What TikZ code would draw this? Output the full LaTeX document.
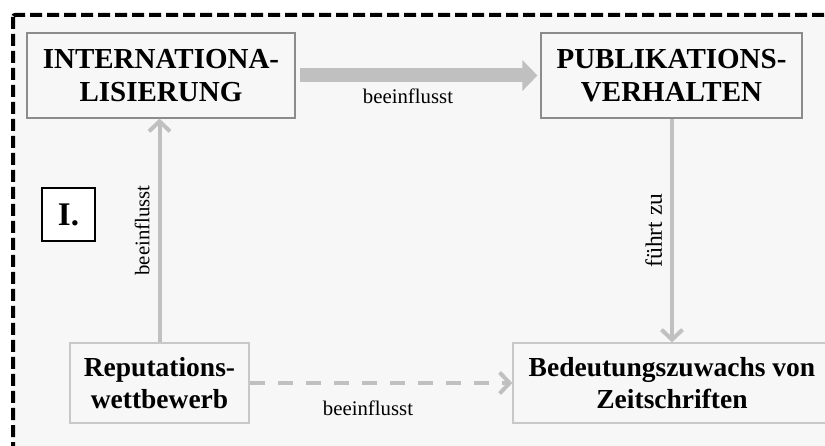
\documentclass[tikz,border=0pt]{standalone}
\usepackage{fontspec}
\setmainfont{Liberation Serif}
\usetikzlibrary{arrows.meta,positioning}
\definecolor{bggray}{HTML}{F7F7F7}
\definecolor{arrowgray}{HTML}{C0C0C0}
\definecolor{darkframe}{HTML}{8C8C8C}
\definecolor{lightframe}{HTML}{C8C8C8}
\tikzset{barb/.tip={Straight Barb[length=10pt,width=21pt]}}

\begin{document}
\begin{tikzpicture}[x = 1pt, y = -1pt,every node/.style={font=\fontsize{20.8}{24}\selectfont},
  topbox/.style={align=center,rectangle,draw=darkframe,line width=1.2pt,fill=bggray,inner sep=0pt,minimum height=85pt,font=\fontsize{29}{32.5}\selectfont\bfseries},
  lowbox/.style={topbox,draw=lightframe,minimum height=80pt,font=\fontsize{27.5}{32.5}\selectfont\bfseries},
  flowline/.style={draw=arrowgray,line width=4pt},
  edgelabel/.style={inner sep=0pt}]
\clip (0,0) rectangle (825,446);
% frame
\draw[line width=4pt,dash pattern=on 12pt off 5pt,fill=bggray,rounded corners=2pt] (13,15) rectangle (850,470);
% boxes
\node[topbox,minimum width=268pt] (intl) at (161,75.5) {INTERNATIONA-\\LISIERUNG};
\node[topbox,minimum width=261pt] (publ) at (671.5,75.5) {PUBLIKATIONS-\\VERHALTEN};
\node[lowbox,minimum width=179pt] (repu) at (159.5,383) {Reputations-\\wettbewerb};
\node[lowbox,minimum width=318pt] (bedeu) at (672,383) {Bedeutungszuwachs von\\Zeitschriften};
\node[draw=black,line width=2.5pt,fill=white,minimum size=53pt,inner sep=0pt,font=\fontsize{33}{36}\selectfont\bfseries] (roman) at (68.5,214.5) {I.};
% arrows
\draw[draw=arrowgray,line width=14pt,-{Triangle[length=15pt,width=30pt]},shorten <=4pt,shorten >=3pt] (intl) -- node[edgelabel,midway,xshift=-10pt,yshift=-21pt] {beeinflusst} (publ);
\draw[flowline,-barb] (repu.north) -- node[edgelabel,sloped,above=8pt] {beeinflusst} (repu.north |- intl.south);
\draw[flowline,barb-] (bedeu.north) -- node[edgelabel,sloped,above=8pt,font=\fontsize{23.5}{26}\selectfont] {führt zu} (bedeu.north |- publ.south);
\draw[flowline,dash pattern=on 15pt off 13pt,-barb] (repu.east) -- node[edgelabel,midway,xshift=-13pt,yshift=-25pt] {beeinflusst} (bedeu.west);
\end{tikzpicture}
\end{document}
